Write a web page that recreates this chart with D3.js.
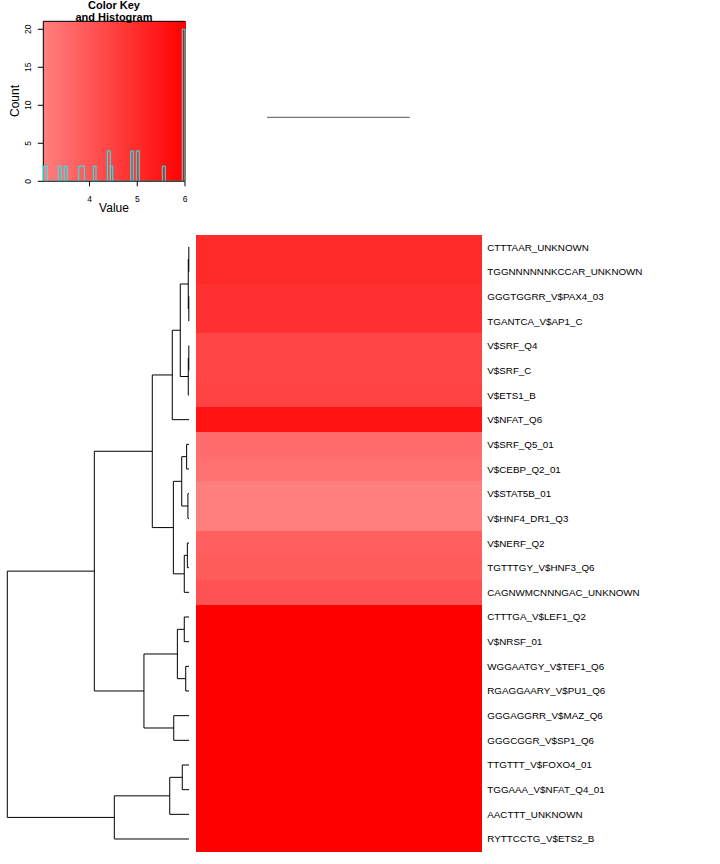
<!DOCTYPE html>
<html>
<head>
<meta charset="utf-8">
<script src="https://cdn.jsdelivr.net/npm/d3@7"></script>
<style>
  html, body { margin: 0; padding: 0; background: #fff; }
  svg { display: block; }
  text { font-family: "Liberation Sans", Arial, Helvetica, sans-serif; fill: #000; }
</style>
</head>
<body>
<svg id="chart" width="720" height="864"></svg>
<script>
// ---------------- DATA ----------------
const rowLabels = [
  "CTTTAAR_UNKNOWN", "TGGNNNNNNKCCAR_UNKNOWN", "GGGTGGRR_V$PAX4_03", "TGANTCA_V$AP1_C",
  "V$SRF_Q4", "V$SRF_C", "V$ETS1_B", "V$NFAT_Q6", "V$SRF_Q5_01", "V$CEBP_Q2_01",
  "V$STAT5B_01", "V$HNF4_DR1_Q3", "V$NERF_Q2", "TGTTTGY_V$HNF3_Q6", "CAGNWMCNNNGAC_UNKNOWN",
  "CTTTGA_V$LEF1_Q2", "V$NRSF_01", "WGGAATGY_V$TEF1_Q6", "RGAGGAARY_V$PU1_Q6",
  "GGGAGGRR_V$MAZ_Q6", "GGGCGGR_V$SP1_Q6", "TTGTTT_V$FOXO4_01", "TGGAAA_V$NFAT_Q4_01",
  "AACTTT_UNKNOWN", "RYTTCCTG_V$ETS2_B"
];
const colNames = ["V1", "V2"];
const rowValues = [
  5.01, 5.01, 4.89, 4.89, 4.40, 4.40, 4.46, 5.55, 3.50, 3.38,
  3.07, 3.07, 3.80, 3.86, 4.11, 6.00, 6.00, 6.00, 6.00, 6.00,
  6.00, 6.00, 6.00, 6.00, 6.00
];
// hclust-style merge table: negative = leaf (-(index+1)), positive = earlier merge (1-based)
const mergeLeft   = [-1, -3, 1, -5, 4, 3, 6, -9,  -11, 8, -13, 11, 10, 7, -16, -18, 15, -20, 17, 14, -22, 21, 22, 20];
const mergeRight  = [-2, -4, 2, -6, -7, 5, -8, -10, -12, 9, -14, -15, 12, 13, -17, -19, 16, -21, 18, 19, -23, -24, -25, 23];
const mergeHeight = [0.01, 0.01, 0.04, 0.01, 0.04, 0.48, 0.92, 0.13, 0.06, 0.40, 0.09, 0.26, 0.86, 2.02,
                     0.26, 0.18, 0.64, 0.84, 2.48, 5.21, 0.37, 1.06, 4.11, 10.0];
// histogram (non-empty bins), value units
const histStart = [3.0325, 3.347, 3.472, 3.774, 4.080, 4.373, 4.436, 4.863, 4.980, 5.525, 5.943];
const histEnd   = [3.116, 3.409, 3.535, 3.891, 4.136, 4.436, 4.486, 4.917, 5.043, 5.587, 6.000];
const histCount = [2, 2, 2, 2, 2, 4, 2, 4, 4, 2, 20];
const keyDomain = [3.0325, 6];
const keyTicks = [4, 5, 6];
const countTicks = [0, 5, 10, 15, 20];

// ---------------- SCALES ----------------
const svg = d3.select("#chart");
const color = d3.scaleLinear().domain(keyDomain).range(["#ff8080", "#ff0000"]).interpolate(d3.interpolateRgb);

const hmLeft = 196.3, hmRight = 481, hmTop = 234.67, hmBottom = 851.33;
const xCol = d3.scaleBand().domain(colNames).range([hmLeft, hmRight]);
const yRow = d3.scaleBand().domain(d3.range(rowLabels.length)).range([hmTop, hmBottom]);

// ---------------- HEATMAP ----------------
const cells = [];
rowValues.forEach((v, i) => colNames.forEach(c => cells.push({ r: i, c, v })));
svg.append("g").attr("shape-rendering", "crispEdges")
  .selectAll("rect").data(cells).join("rect")
  .attr("x", d => xCol(d.c))
  .attr("y", d => yRow(d.r))
  .attr("width", xCol.bandwidth() + 1)
  .attr("height", yRow.bandwidth() + 1)
  .attr("fill", d => color(d.v));

svg.append("g").selectAll("text").data(rowLabels).join("text")
  .attr("x", 487.3)
  .attr("y", (d, i) => yRow(i) + yRow.bandwidth() / 2 + 3.5)
  .attr("font-size", "9.8px")
  .text(d => d);

// ---------------- ROW DENDROGRAM ----------------
const xDen = d3.scaleLinear().domain([0, 10]).range([189, 7.3]);
const nodeY = [], nodeH = [];
function childPos(ref) {
  if (ref < 0) { const i = -ref - 1; return { y: yRow(i) + yRow.bandwidth() / 2, h: 0 }; }
  return { y: nodeY[ref - 1], h: nodeH[ref - 1] };
}
const segs = [];
mergeLeft.forEach((l, k) => {
  const a = childPos(l), b = childPos(mergeRight[k]);
  const h = mergeHeight[k];
  nodeY[k] = (a.y + b.y) / 2; nodeH[k] = h;
  segs.push([xDen(h), a.y, xDen(h), b.y]);
  segs.push([xDen(h), a.y, xDen(a.h), a.y]);
  segs.push([xDen(h), b.y, xDen(b.h), b.y]);
});
svg.append("g").selectAll("line").data(segs).join("line")
  .attr("x1", d => d[0]).attr("y1", d => d[1])
  .attr("x2", d => d[2]).attr("y2", d => d[3])
  .attr("stroke", "#000").attr("stroke-width", 1);

// ---------------- COLUMN DENDROGRAM ----------------
svg.append("line")
  .attr("x1", xCol(colNames[0]) + xCol.bandwidth() / 2 - 0.5)
  .attr("x2", xCol(colNames[1]) + xCol.bandwidth() / 2)
  .attr("y1", 117.3).attr("y2", 117.3)
  .attr("stroke", "#555").attr("stroke-width", 1);

// ---------------- COLOR KEY ----------------
const kLeft = 43.3, kRight = 185, kTop = 21.3, kBottom = 181.3;
const xKey = d3.scaleLinear().domain(keyDomain).range([kLeft, kRight]);
const yKey = d3.scaleLinear().domain([0, 21.05]).range([kBottom, kTop]);
const gk = svg.append("g");
const nSteps = 142;
const stepVals = d3.range(nSteps).map(i => keyDomain[0] + (keyDomain[1] - keyDomain[0]) * i / nSteps);
const stepW = (kRight - kLeft) / nSteps;
gk.append("g").attr("shape-rendering", "crispEdges")
  .selectAll("rect").data(stepVals).join("rect")
  .attr("x", d => xKey(d)).attr("y", kTop)
  .attr("width", stepW + 1).attr("height", kBottom - kTop)
  .attr("fill", d => color(d + (keyDomain[1] - keyDomain[0]) / nSteps / 2));

// border
gk.append("line").attr("x1", kLeft).attr("x2", kRight).attr("y1", kTop).attr("y2", kTop).attr("stroke", "#000");
gk.append("line").attr("x1", kLeft).attr("x2", kLeft).attr("y1", kTop).attr("y2", kBottom).attr("stroke", "#000");

// histogram step line
const pts = [];
histStart.forEach((s, i) => {
  pts.push([s, 0], [s, histCount[i]], [histEnd[i], histCount[i]], [histEnd[i], 0]);
});
const fullPts = [[keyDomain[0], 0]].concat(pts);
gk.append("path")
  .attr("d", d3.line().x(d => xKey(d[0])).y(d => yKey(d[1]))(fullPts))
  .attr("fill", "none").attr("stroke", "#00ffff").attr("stroke-width", 1);

gk.append("line").attr("x1", kLeft).attr("x2", kRight).attr("y1", kBottom).attr("y2", kBottom)
  .attr("stroke", "#222").attr("stroke-width", 1);

// x axis
gk.selectAll("line.xt").data(keyTicks).join("line").attr("class", "xt")
  .attr("x1", d => xKey(d)).attr("x2", d => xKey(d))
  .attr("y1", kBottom).attr("y2", kBottom + 5).attr("stroke", "#000");
gk.selectAll("text.xt").data(keyTicks).join("text").attr("class", "xt")
  .attr("x", d => xKey(d)).attr("y", 201.5)
  .attr("text-anchor", "middle").attr("font-size", "8.5px")
  .text(d => d);
gk.append("text").attr("x", 114).attr("y", 211.8).attr("text-anchor", "middle")
  .attr("font-size", "12px").text("Value");

// y axis
gk.selectAll("line.yt").data(countTicks).join("line").attr("class", "yt")
  .attr("x1", kLeft - 5.5).attr("x2", kLeft)
  .attr("y1", d => yKey(d)).attr("y2", d => yKey(d)).attr("stroke", "#000");
gk.selectAll("text.yt").data(countTicks).join("text").attr("class", "yt")
  .attr("transform", d => `translate(31.3,${yKey(d)}) rotate(-90)`)
  .attr("text-anchor", "middle").attr("font-size", "8.5px")
  .text(d => d);
gk.append("text").attr("transform", "translate(19.3,101) rotate(-90)")
  .attr("text-anchor", "middle").attr("font-size", "12px").text("Count");

// title
gk.append("text").attr("x", 114).attr("y", 8.7).attr("text-anchor", "middle")
  .attr("font-size", "11px").attr("font-weight", "bold").text("Color Key");
gk.append("text").attr("x", 114).attr("y", 20.8).attr("text-anchor", "middle")
  .attr("font-size", "11px").attr("font-weight", "bold").text("and Histogram");
</script>
</body>
</html>
